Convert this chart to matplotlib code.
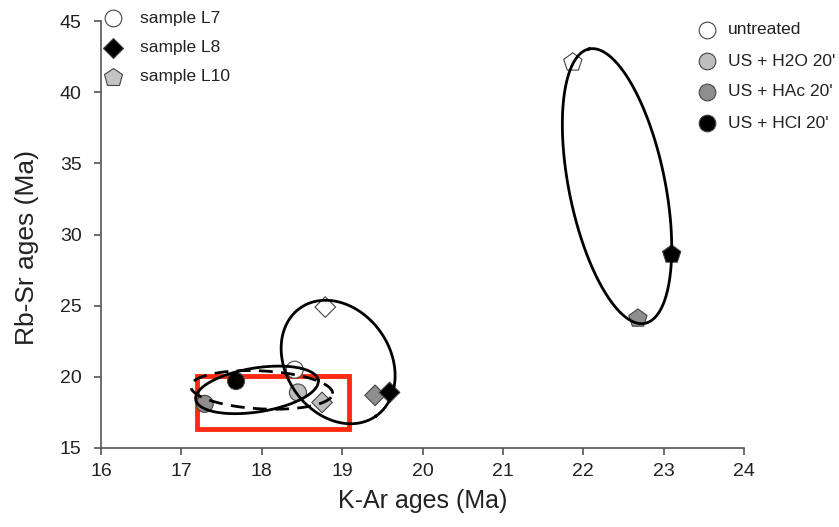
import numpy as np
import matplotlib
matplotlib.use("Agg")
import matplotlib.pyplot as plt
from matplotlib.lines import Line2D
from matplotlib.patches import Rectangle

plt.rcParams["font.family"] = ["Liberation Sans", "DejaVu Sans"]

# K-Ar / Rb-Sr ages (Ma), per sample and treatment
treatments = ["untreated", "US + H2O 20'", "US + HAc 20'", "US + HCl 20'"]
treat_colors = ["white", "#bdbdbd", "#8e8e8e", "black"]

samples = ["sample L7", "sample L8", "sample L10"]
sample_markers = ["o", "D", "p"]
sample_fill = ["white", "black", "#c4c4c4"]

l7_treat = [0, 1, 2, 3]
l7_kar = [18.41, 18.45, 17.29, 17.68]
l7_rbsr = [20.5, 18.9, 18.1, 19.7]

l8_treat = [0, 1, 2, 3]
l8_kar = [18.79, 18.75, 19.41, 19.59]
l8_rbsr = [24.9, 18.2, 18.7, 18.9]

l10_treat = [0, 2, 3]
l10_kar = [21.87, 22.68, 23.10]
l10_rbsr = [42.1, 24.1, 28.6]

# ellipses: centre (data), semi-axes in screen px, angle in degrees, linestyle
ell_cx = [22.42, 18.95, 17.94, 18.00]
ell_cy = [33.4, 21.04, 19.08, 19.08]
ell_a = [140, 66, 62, 71]
ell_b = [48, 52, 22, 19]
ell_ang = [101.5, -55, 9, -3]
ell_ls = ["-", "-", "-", (0, (5, 3))]

# highlighted box
box_x = [17.2, 19.08]
box_y = [16.3, 20.05]

fig = plt.figure(figsize=(8.39, 5.27), dpi=100)
ax = fig.add_axes([0.1204, 0.150, 0.7664, 0.810])
ax.set_xlim(16, 24)
ax.set_ylim(15, 45)
ax.set_xticks(range(16, 25))
ax.set_yticks(range(15, 46, 5))
for s in ["top", "right"]:
    ax.spines[s].set_visible(False)
for s in ["left", "bottom"]:
    ax.spines[s].set_color("#555555")
    ax.spines[s].set_linewidth(1.2)
ax.tick_params(direction="out", length=5, width=1.2, color="#555555",
               labelsize=14, labelcolor="#222222", pad=6)
ax.tick_params(axis="y", pad=9)
ax.set_xlabel("K-Ar ages (Ma)", fontsize=18, color="#222222", labelpad=6)
ax.set_ylabel("Rb-Sr ages (Ma)", fontsize=19, color="#222222")
ax.yaxis.set_label_coords(-0.097, 0.47)

ax.add_patch(Rectangle((box_x[0], box_y[0]), box_x[1] - box_x[0],
                       box_y[1] - box_y[0], fill=False, edgecolor="#ff2a10",
                       linewidth=3.5, zorder=2))

sizes = [150, 110, 190]
for i, (tr, kx, ky) in enumerate([(l7_treat, l7_kar, l7_rbsr),
                                  (l8_treat, l8_kar, l8_rbsr),
                                  (l10_treat, l10_kar, l10_rbsr)]):
    ax.scatter(kx, ky, s=sizes[i], marker=sample_markers[i],
               c=[treat_colors[t] for t in tr], edgecolors="#444444",
               linewidths=0.8, zorder=3)

# ellipses drawn in screen-pixel space so the tilt looks right
fig.canvas.draw()
sx = ax.bbox.width / 8.0
sy = ax.bbox.height / 30.0
t = np.linspace(0, 2 * np.pi, 300)
for cx, cy, a, b, ang, ls in zip(ell_cx, ell_cy, ell_a, ell_b, ell_ang, ell_ls):
    th = np.deg2rad(ang)
    u = a * np.cos(t)
    v = b * np.sin(t)
    px = u * np.cos(th) - v * np.sin(th)
    py = u * np.sin(th) + v * np.cos(th)
    ax.plot(cx + px / sx, cy + py / sy, color="black", linewidth=2.0,
            linestyle=ls, zorder=4)

# sample legend (top left)
W, H = 839.0, 527.0
for i, name in enumerate(samples):
    y = 1 - (18 + 29.5 * i) / H
    ms = [12, 10.5, 13.5][i]
    fig.add_artist(Line2D([113 / W], [y], marker=sample_markers[i],
                          markersize=ms, markerfacecolor=sample_fill[i],
                          markeredgecolor="#444444", markeredgewidth=0.8,
                          linestyle="none"))
    fig.text(140 / W, y, name, fontsize=12.5, color="#222222", va="center")

# treatment legend (top right)
for i, name in enumerate(treatments):
    y = 1 - (30 + 31 * i) / H
    fig.add_artist(Line2D([707 / W], [y], marker="o", markersize=12,
                          markerfacecolor=treat_colors[i],
                          markeredgecolor="#444444", markeredgewidth=0.8,
                          linestyle="none"))
    fig.text(728 / W, y, name, fontsize=12.5, color="#222222", va="center")

fig.savefig("out.png", dpi=100, facecolor="white")
